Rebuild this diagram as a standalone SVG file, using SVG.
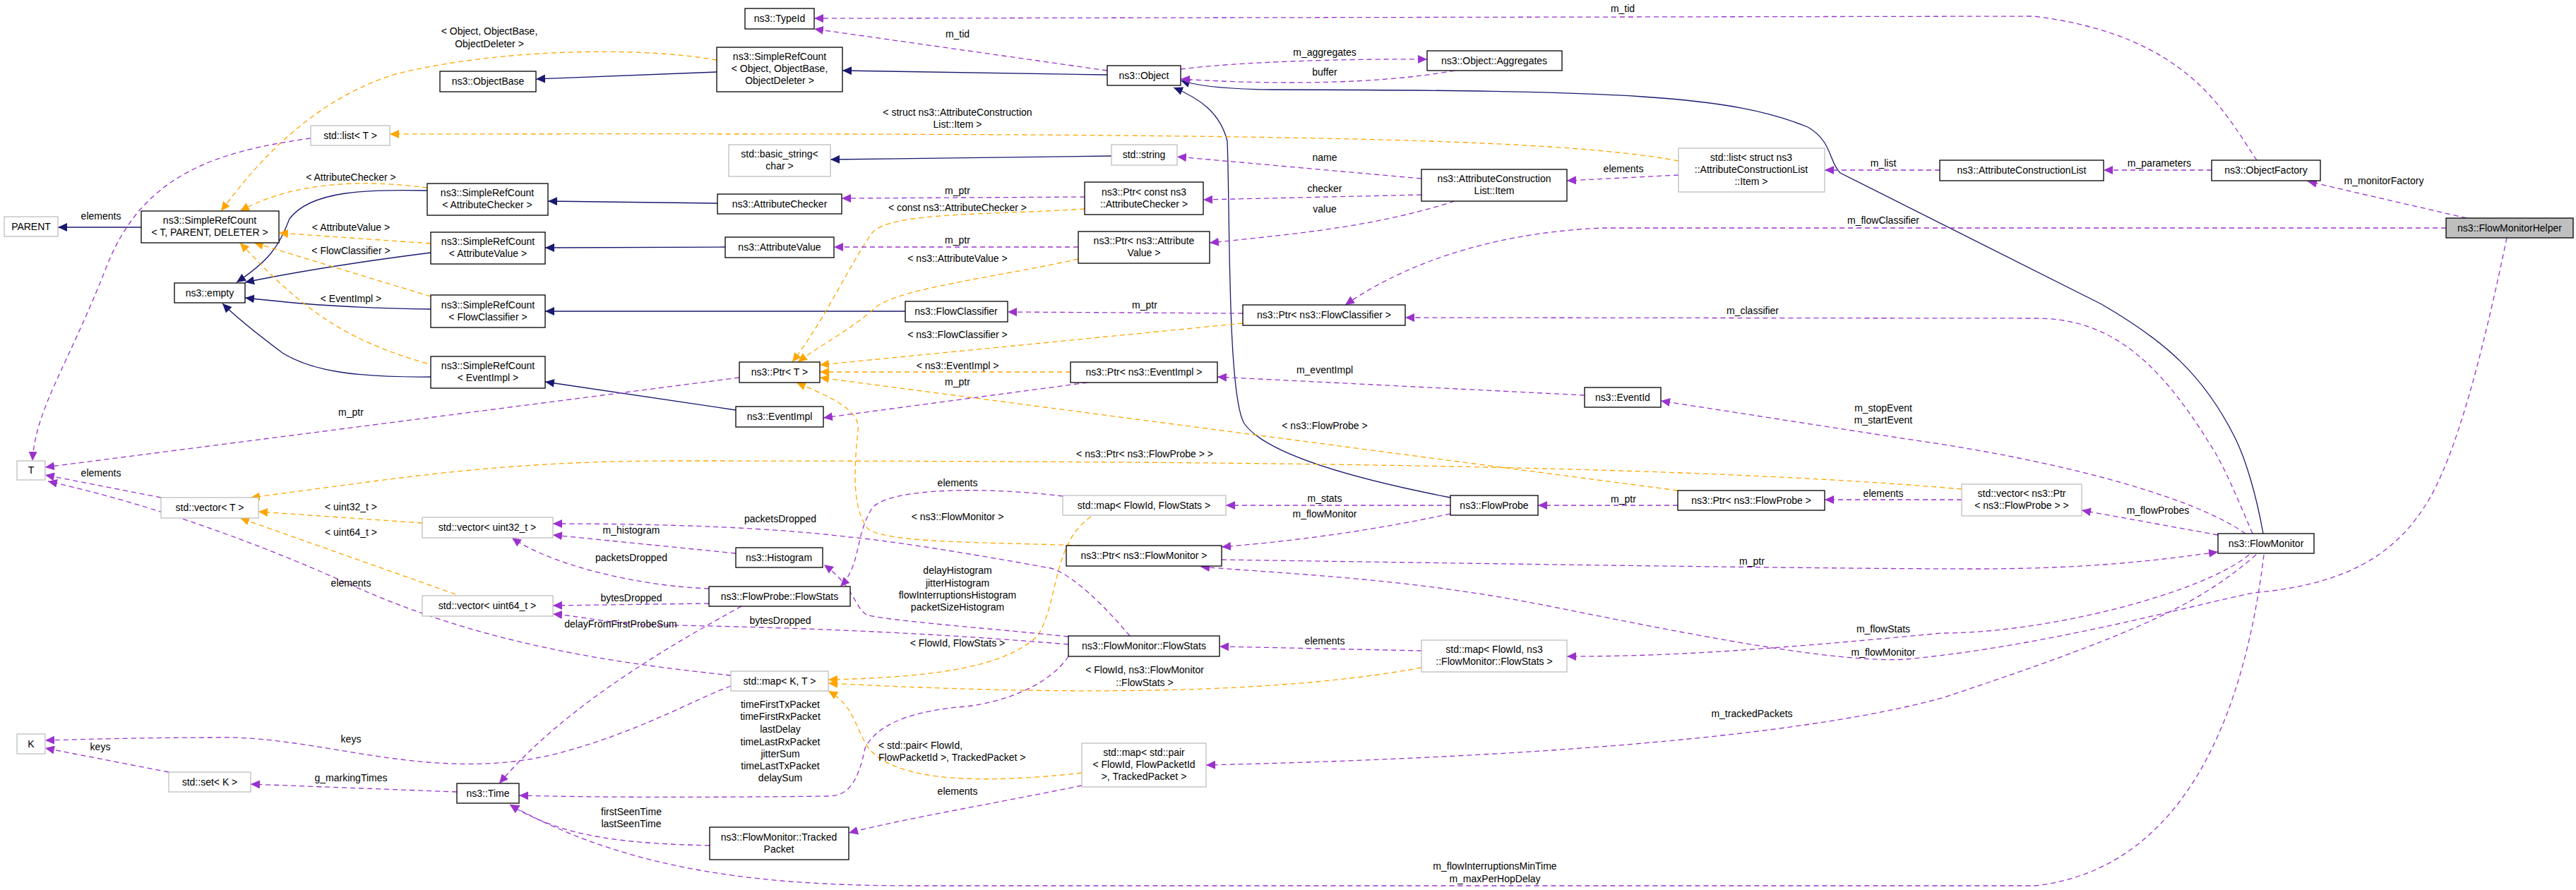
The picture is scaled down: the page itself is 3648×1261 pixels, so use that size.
<svg xmlns="http://www.w3.org/2000/svg" width="3648" height="1261" viewBox="0 0 3648 1261">
<style>
text{font-family:"Liberation Sans",Arial,sans-serif;font-size:14px;fill:#000;text-anchor:middle}
.n rect{fill:#fff;stroke:#000;stroke-width:1.3}
.g rect{fill:#fff;stroke:#bfbfbf;stroke-width:1.3}
.h rect{fill:#bfbfbf;stroke:#000;stroke-width:1.3}
.p{fill:none;stroke:#9a32cd;stroke-width:1.3;stroke-dasharray:7,5;marker-end:url(#mp)}
.o{fill:none;stroke:#ffa500;stroke-width:1.3;stroke-dasharray:7,5;marker-end:url(#mo)}
.b{fill:none;stroke:#191970;stroke-width:1.3;marker-end:url(#mb)}
.ll{text-anchor:start}
</style>
<defs>
<marker id="mp" markerUnits="userSpaceOnUse" markerWidth="14" markerHeight="12" refX="13" refY="6" orient="auto"><path d="M0,0L13,6L0,12z" fill="#9a32cd"/></marker>
<marker id="mo" markerUnits="userSpaceOnUse" markerWidth="14" markerHeight="12" refX="13" refY="6" orient="auto"><path d="M0,0L13,6L0,12z" fill="#ffa500"/></marker>
<marker id="mb" markerUnits="userSpaceOnUse" markerWidth="14" markerHeight="12" refX="13" refY="6" orient="auto"><path d="M0,0L13,6L0,12z" fill="#191970"/></marker>
</defs>
<rect width="3648" height="1261" fill="#fff"/>
<g id="connectors">
<path class="b" d="M200,322L82,322"/>
<path class="b" d="M605,270C520,268 440,270 410,310C395,350 380,370 335,400"/>
<path class="b" d="M610,358C500,372 420,385 347,400"/>
<path class="b" d="M610,438C480,436 420,430 347,422"/>
<path class="b" d="M610,534C500,535 440,525 400,500C360,470 335,450 315,430"/>
<path class="b" d="M1016,288L776,285"/>
<path class="b" d="M1027,350L772,351"/>
<path class="b" d="M1282,441L772,441"/>
<path class="b" d="M1042,581L772,541"/>
<path class="b" d="M1015,102L759,112"/>
<path class="b" d="M1568,106L1193,100"/>
<path class="b" d="M1574,221L1176,226"/>
<path class="b" d="M2054,705C1900,675 1790,640 1762,600C1738,560 1742,300 1738,200C1728,160 1700,140 1662,124"/>
<path class="b" d="M3205,756C3195,700 3180,650 3165,620C3120,530 3064,482 2976,431L2606,245C2590,230 2595,200 2560,180C2450,135 2300,128 1800,127C1720,126 1690,120 1672,114"/>
<path class="o" d="M1015,85C900,65 700,70 560,105C430,145 350,250 313,299"/>
<path class="o" d="M605,266C520,255 420,255 340,299"/>
<path class="o" d="M610,345L395,330"/>
<path class="o" d="M610,420L360,344"/>
<path class="o" d="M605,515C480,480 420,430 340,344"/>
<path class="o" d="M2377,228C2200,195 1800,188 552,190"/>
<path class="o" d="M1536,296C1400,305 1260,300 1235,330C1200,380 1170,450 1122,513"/>
<path class="o" d="M1527,367C1400,395 1260,410 1235,440C1200,470 1160,490 1130,513"/>
<path class="o" d="M1760,458L1161,517"/>
<path class="o" d="M1516,527L1161,527"/>
<path class="o" d="M2376,695L1161,535"/>
<path class="o" d="M1530,773C1400,768 1260,770 1230,750C1205,720 1210,660 1215,610C1220,580 1170,560 1128,542"/>
<path class="o" d="M2778,693C2400,660 1800,653 950,653C700,653 550,680 355,705"/>
<path class="o" d="M598,741L366,725"/>
<path class="o" d="M645,842L340,734"/>
<path class="o" d="M1545,732C1490,770 1500,850 1470,900C1420,950 1300,960 1173,963"/>
<path class="o" d="M2013,946C1800,985 1500,985 1173,968"/>
<path class="o" d="M1532,1095C1400,1110 1270,1110 1230,1060C1210,1030 1210,1000 1173,979"/>
<path class="p" d="M3196,227C3150,160 3100,50 2880,23L1153,26"/>
<path class="p" d="M1568,100L1153,41"/>
<path class="p" d="M1672,98C1750,88 1900,83 2021,84"/>
<path class="p" d="M2060,100C1950,120 1800,120 1672,112"/>
<path class="p" d="M2013,253L1667,222"/>
<path class="p" d="M2013,276L1704,283"/>
<path class="p" d="M2060,285C1950,320 1850,330 1713,344"/>
<path class="p" d="M2377,248L2219,256"/>
<path class="p" d="M2747,241L2584,241"/>
<path class="p" d="M3132,241L2979,241"/>
<path class="p" d="M3493,309L3268,257"/>
<path class="p" d="M3464,323L2270,323C2100,330 1980,380 1905,432"/>
<path class="p" d="M3190,756C3170,710 3150,660 3130,630C3050,500 2980,451 2882,451L1990,450"/>
<path class="p" d="M3550,337C3520,480 3480,650 3432,720C3380,800 3300,830 3191,840C3106,857 2900,915 2700,934C2600,940 2400,900 2200,860C2000,820 1850,815 1700,803"/>
<path class="p" d="M3185,786C3120,840 2900,897 2750,897C2467,924 2350,930 2219,930"/>
<path class="p" d="M1730,793C2200,800 2600,806 2800,806C2950,806 3050,795 3141,782"/>
<path class="p" d="M3180,756C3100,700 2900,650 2700,622L2352,568"/>
<path class="p" d="M3141,758L2948,723"/>
<path class="p" d="M3195,786C3120,850 3050,890 2750,989C2600,1030 2300,1070 1708,1084"/>
<path class="p" d="M3206,786C3180,1000 3100,1230 2882,1255L1300,1255C1100,1255 900,1240 722,1140"/>
<path class="p" d="M2054,716L1736,716"/>
<path class="p" d="M2054,728C1950,750 1850,765 1730,775"/>
<path class="p" d="M2376,716L2178,716"/>
<path class="p" d="M2778,708L2584,708"/>
<path class="p" d="M1760,444L1427,442"/>
<path class="p" d="M1536,279L1192,281"/>
<path class="p" d="M1527,350L1181,350"/>
<path class="p" d="M1540,542L1166,592"/>
<path class="p" d="M2244,560L1724,534"/>
<path class="p" d="M1047,535L64,662"/>
<path class="p" d="M440,196C300,215 200,250 150,380C95,520 50,580 46,653"/>
<path class="p" d="M228,705L64,673"/>
<path class="p" d="M1035,957C900,942 700,920 500,830C300,740 150,700 68,682"/>
<path class="p" d="M1035,972C985,990 900,1040 780,1070C600,1110 450,1040 300,1045C200,1045 100,1048 64,1049"/>
<path class="p" d="M239,1094L64,1060"/>
<path class="p" d="M647,1122L355,1111"/>
<path class="p" d="M1005,1198C900,1195 800,1190 722,1140"/>
<path class="p" d="M1050,859C950,914 800,1000 707,1110"/>
<path class="p" d="M1513,930C1480,979 1400,1000 1355,1002C1280,1010 1240,1030 1225,1060C1215,1110 1200,1128 1173,1128C1000,1130 850,1130 735,1127"/>
<path class="p" d="M1600,901C1540,830 1500,805 1482,804C1350,780 1250,765 1203,761C1100,748 950,742 783,742"/>
<path class="p" d="M1004,834C900,830 780,800 725,762"/>
<path class="p" d="M1042,784L783,758"/>
<path class="p" d="M1004,855L783,858"/>
<path class="p" d="M1513,913C1300,895 1100,888 900,885C850,880 820,873 783,870"/>
<path class="p" d="M1513,902C1400,890 1260,880 1227,871C1210,860 1210,832 1167,800"/>
<path class="p" d="M1505,703C1400,690 1260,690 1235,720C1210,760 1220,800 1190,831"/>
<path class="p" d="M2013,922L1727,916"/>
<path class="p" d="M1532,1113C1400,1140 1280,1160 1202,1180"/>
</g>
<g id="labels">
<text x="693" y="49">&lt; Object, ObjectBase,</text><text x="693" y="67">ObjectDeleter &gt;</text>
<text x="143" y="311">elements</text>
<text x="497" y="256">&lt; AttributeChecker &gt;</text>
<text x="497" y="327">&lt; AttributeValue &gt;</text>
<text x="497" y="360">&lt; FlowClassifier &gt;</text>
<text x="497" y="428">&lt; EventImpl &gt;</text>
<text x="497" y="589">m_ptr</text>
<text x="1356" y="53">m_tid</text>
<text x="1356" y="164">&lt; struct ns3::AttributeConstruction</text><text x="1356" y="181">List::Item &gt;</text>
<text x="1356" y="275">m_ptr</text>
<text x="1356" y="299">&lt; const ns3::AttributeChecker &gt;</text>
<text x="1356" y="345">m_ptr</text>
<text x="1356" y="371">&lt; ns3::AttributeValue &gt;</text>
<text x="1621" y="437">m_ptr</text>
<text x="1356" y="479">&lt; ns3::FlowClassifier &gt;</text>
<text x="1356" y="523">&lt; ns3::EventImpl &gt;</text>
<text x="1356" y="546">m_ptr</text>
<text x="2298" y="17">m_tid</text>
<text x="1876" y="79">m_aggregates</text>
<text x="1876" y="107">buffer</text>
<text x="1876" y="228">name</text>
<text x="1876" y="272">checker</text>
<text x="1876" y="301">value</text>
<text x="2299" y="244">elements</text>
<text x="2667" y="236">m_list</text>
<text x="3058" y="236">m_parameters</text>
<text x="3376" y="261">m_monitorFactory</text>
<text x="2667" y="317">m_flowClassifier</text>
<text x="2482" y="445">m_classifier</text>
<text x="1876" y="529">m_eventImpl</text>
<text x="2667" y="583">m_stopEvent</text><text x="2667" y="600">m_startEvent</text>
<text x="1876" y="608">&lt; ns3::FlowProbe &gt;</text>
<text x="143" y="675">elements</text>
<text x="497" y="723">&lt; uint32_t &gt;</text>
<text x="497" y="759">&lt; uint64_t &gt;</text>
<text x="497" y="831">elements</text>
<text x="894" y="756">m_histogram</text>
<text x="894" y="795">packetsDropped</text>
<text x="894" y="852">bytesDropped</text>
<text x="879" y="889">delayFromFirstProbeSum</text>
<text x="497" y="1052">keys</text>
<text x="142" y="1063">keys</text>
<text x="497" y="1107">g_markingTimes</text>
<text x="894" y="1155">firstSeenTime</text><text x="894" y="1172">lastSeenTime</text>
<text x="1621" y="648">&lt; ns3::Ptr&lt; ns3::FlowProbe &gt; &gt;</text>
<text x="1356" y="689">elements</text>
<text x="1356" y="737">&lt; ns3::FlowMonitor &gt;</text>
<text x="1105" y="740">packetsDropped</text>
<text x="1356" y="813">delayHistogram</text><text x="1356" y="831">jitterHistogram</text><text x="1356" y="848">flowInterruptionsHistogram</text><text x="1356" y="865">packetSizeHistogram</text>
<text x="1105" y="884">bytesDropped</text>
<text x="1356" y="916">&lt; FlowId, FlowStats &gt;</text>
<text x="1621" y="954">&lt; FlowId, ns3::FlowMonitor</text><text x="1621" y="972">::FlowStats &gt;</text>
<text x="1105" y="1003">timeFirstTxPacket</text><text x="1105" y="1020">timeFirstRxPacket</text><text x="1105" y="1038">lastDelay</text><text x="1105" y="1056">timeLastRxPacket</text><text x="1105" y="1073">jitterSum</text><text x="1105" y="1090">timeLastTxPacket</text><text x="1105" y="1107">delaySum</text>
<text class="ll" x="1244" y="1061">&lt; std::pair&lt; FlowId,</text><text class="ll" x="1244" y="1078">FlowPacketId &gt;, TrackedPacket &gt;</text>
<text x="1356" y="1126">elements</text>
<text x="1876" y="711">m_stats</text>
<text x="1876" y="733">m_flowMonitor</text>
<text x="2299" y="712">m_ptr</text>
<text x="2667" y="704">elements</text>
<text x="2481" y="800">m_ptr</text>
<text x="2667" y="896">m_flowStats</text>
<text x="2667" y="929">m_flowMonitor</text>
<text x="1876" y="913">elements</text>
<text x="2481" y="1016">m_trackedPackets</text>
<text x="2117" y="1232">m_flowInterruptionsMinTime</text><text x="2117" y="1250">m_maxPerHopDelay</text>
<text x="3056" y="728">m_flowProbes</text>
</g>
<g id="n_parent" class="g"><rect x="6" y="307" width="76" height="28"/><text x="44" y="326">PARENT</text></g>
<g id="n_src_tpd" class="n"><rect x="200" y="299" width="195" height="45"/><text x="297" y="317">ns3::SimpleRefCount</text><text x="297" y="334">&lt; T, PARENT, DELETER &gt;</text></g>
<g id="n_empty" class="n"><rect x="247" y="401" width="100" height="28"/><text x="297" y="420">ns3::empty</text></g>
<g id="n_stdlist_t" class="g"><rect x="440" y="178" width="112" height="28"/><text x="496" y="197">std::list&lt; T &gt;</text></g>
<g id="n_objectbase" class="n"><rect x="623" y="101" width="136" height="29"/><text x="691" y="120">ns3::ObjectBase</text></g>
<g id="n_src_ac" class="n"><rect x="605" y="260" width="171" height="45"/><text x="690" y="278">ns3::SimpleRefCount</text><text x="690" y="295">&lt; AttributeChecker &gt;</text></g>
<g id="n_src_av" class="n"><rect x="610" y="329" width="162" height="45"/><text x="691" y="347">ns3::SimpleRefCount</text><text x="691" y="364">&lt; AttributeValue &gt;</text></g>
<g id="n_src_fc" class="n"><rect x="610" y="418" width="162" height="46"/><text x="691" y="437">ns3::SimpleRefCount</text><text x="691" y="454">&lt; FlowClassifier &gt;</text></g>
<g id="n_src_ei" class="n"><rect x="610" y="505" width="162" height="45"/><text x="691" y="523">ns3::SimpleRefCount</text><text x="691" y="540">&lt; EventImpl &gt;</text></g>
<g id="n_typeid" class="n"><rect x="1055" y="12" width="98" height="29"/><text x="1104" y="31">ns3::TypeId</text></g>
<g id="n_src_obj" class="n"><rect x="1015" y="67" width="178" height="63"/><text x="1104" y="85">ns3::SimpleRefCount</text><text x="1104" y="102">&lt; Object, ObjectBase,</text><text x="1104" y="119">ObjectDeleter &gt;</text></g>
<g id="n_object" class="n"><rect x="1568" y="93" width="104" height="28"/><text x="1620" y="112">ns3::Object</text></g>
<g id="n_basic_string" class="g"><rect x="1032" y="205" width="144" height="45"/><text x="1104" y="223">std::basic_string&lt;</text><text x="1104" y="240">char &gt;</text></g>
<g id="n_string" class="g"><rect x="1574" y="205" width="93" height="29"/><text x="1620" y="224">std::string</text></g>
<g id="n_attrchecker" class="n"><rect x="1016" y="275" width="176" height="28"/><text x="1104" y="294">ns3::AttributeChecker</text></g>
<g id="n_ptr_ac" class="n"><rect x="1536" y="258" width="168" height="46"/><text x="1620" y="277">ns3::Ptr&lt; const ns3</text><text x="1620" y="294">::AttributeChecker &gt;</text></g>
<g id="n_attrvalue" class="n"><rect x="1027" y="336" width="154" height="29"/><text x="1104" y="355">ns3::AttributeValue</text></g>
<g id="n_ptr_av" class="n"><rect x="1527" y="328" width="186" height="45"/><text x="1620" y="346">ns3::Ptr&lt; ns3::Attribute</text><text x="1620" y="363">Value &gt;</text></g>
<g id="n_flowclassifier" class="n"><rect x="1282" y="427" width="145" height="29"/><text x="1354" y="446">ns3::FlowClassifier</text></g>
<g id="n_ptr_t" class="n"><rect x="1047" y="513" width="114" height="29"/><text x="1104" y="532">ns3::Ptr&lt; T &gt;</text></g>
<g id="n_ptr_ei" class="n"><rect x="1516" y="513" width="208" height="29"/><text x="1620" y="532">ns3::Ptr&lt; ns3::EventImpl &gt;</text></g>
<g id="n_eventimpl" class="n"><rect x="1042" y="576" width="124" height="29"/><text x="1104" y="595">ns3::EventImpl</text></g>
<g id="n_ptr_fc" class="n"><rect x="1760" y="432" width="230" height="29"/><text x="1875" y="451">ns3::Ptr&lt; ns3::FlowClassifier &gt;</text></g>
<g id="n_aggregates" class="n"><rect x="2021" y="72" width="191" height="28"/><text x="2116" y="91">ns3::Object::Aggregates</text></g>
<g id="n_item" class="n"><rect x="2013" y="240" width="206" height="45"/><text x="2116" y="258">ns3::AttributeConstruction</text><text x="2116" y="275">List::Item</text></g>
<g id="n_list_item" class="g"><rect x="2377" y="210" width="207" height="62"/><text x="2480" y="228">std::list&lt; struct ns3</text><text x="2480" y="245">::AttributeConstructionList</text><text x="2480" y="262">::Item &gt;</text></g>
<g id="n_eventid" class="n"><rect x="2244" y="549" width="108" height="28"/><text x="2298" y="568">ns3::EventId</text></g>
<g id="n_acl" class="n"><rect x="2747" y="227" width="232" height="29"/><text x="2863" y="246">ns3::AttributeConstructionList</text></g>
<g id="n_objectfactory" class="n"><rect x="3132" y="227" width="154" height="29"/><text x="3209" y="246">ns3::ObjectFactory</text></g>
<g id="n_helper" class="h"><rect x="3464" y="309" width="180" height="28"/><text x="3554" y="328">ns3::FlowMonitorHelper</text></g>
<g id="n_t" class="g"><rect x="24" y="653" width="40" height="27"/><text x="44" y="671">T</text></g>
<g id="n_vector_t" class="g"><rect x="228" y="705" width="138" height="29"/><text x="297" y="724">std::vector&lt; T &gt;</text></g>
<g id="n_vector_u32" class="g"><rect x="598" y="733" width="185" height="29"/><text x="690" y="752">std::vector&lt; uint32_t &gt;</text></g>
<g id="n_vector_u64" class="g"><rect x="598" y="844" width="185" height="29"/><text x="690" y="863">std::vector&lt; uint64_t &gt;</text></g>
<g id="n_k" class="g"><rect x="24" y="1040" width="40" height="28"/><text x="44" y="1059">K</text></g>
<g id="n_set_k" class="g"><rect x="239" y="1094" width="116" height="28"/><text x="297" y="1113">std::set&lt; K &gt;</text></g>
<g id="n_time" class="n"><rect x="647" y="1110" width="88" height="28"/><text x="691" y="1129">ns3::Time</text></g>
<g id="n_map_fp_stats" class="g"><rect x="1505" y="702" width="231" height="28"/><text x="1620" y="721">std::map&lt; FlowId, FlowStats &gt;</text></g>
<g id="n_ptr_fm" class="n"><rect x="1510" y="773" width="220" height="29"/><text x="1620" y="792">ns3::Ptr&lt; ns3::FlowMonitor &gt;</text></g>
<g id="n_histogram" class="n"><rect x="1042" y="776" width="123" height="28"/><text x="1103" y="795">ns3::Histogram</text></g>
<g id="n_fp_flowstats" class="n"><rect x="1004" y="831" width="200" height="28"/><text x="1104" y="850">ns3::FlowProbe::FlowStats</text></g>
<g id="n_fm_flowstats" class="n"><rect x="1513" y="901" width="214" height="29"/><text x="1620" y="920">ns3::FlowMonitor::FlowStats</text></g>
<g id="n_map_kt" class="g"><rect x="1035" y="951" width="138" height="28"/><text x="1104" y="970">std::map&lt; K, T &gt;</text></g>
<g id="n_map_pair" class="g"><rect x="1532" y="1053" width="176" height="62"/><text x="1620" y="1071">std::map&lt; std::pair</text><text x="1620" y="1088">&lt; FlowId, FlowPacketId</text><text x="1620" y="1105">&gt;, TrackedPacket &gt;</text></g>
<g id="n_tracked" class="n"><rect x="1005" y="1172" width="197" height="46"/><text x="1103" y="1191">ns3::FlowMonitor::Tracked</text><text x="1103" y="1208">Packet</text></g>
<g id="n_flowprobe" class="n"><rect x="2054" y="702" width="124" height="28"/><text x="2116" y="721">ns3::FlowProbe</text></g>
<g id="n_ptr_fp" class="n"><rect x="2376" y="695" width="208" height="28"/><text x="2480" y="714">ns3::Ptr&lt; ns3::FlowProbe &gt;</text></g>
<g id="n_map_fm_stats" class="g"><rect x="2013" y="907" width="206" height="45"/><text x="2116" y="925">std::map&lt; FlowId, ns3</text><text x="2116" y="942">::FlowMonitor::FlowStats &gt;</text></g>
<g id="n_vector_ptr_fp" class="g"><rect x="2778" y="686" width="170" height="45"/><text x="2863" y="704">std::vector&lt; ns3::Ptr</text><text x="2863" y="721">&lt; ns3::FlowProbe &gt; &gt;</text></g>
<g id="n_flowmonitor" class="n"><rect x="3141" y="756" width="136" height="28"/><text x="3209" y="775">ns3::FlowMonitor</text></g>
</svg>
